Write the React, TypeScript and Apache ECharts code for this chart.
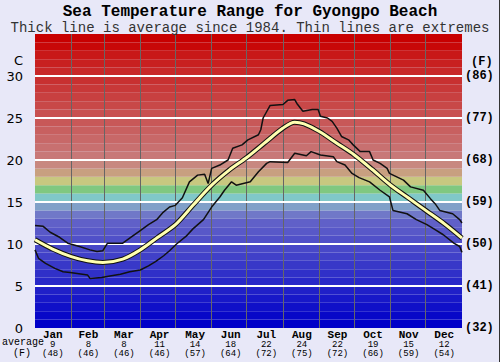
import React, { useEffect, useRef } from "react";
import * as echarts from "echarts";

const MONTHS = ["Jan", "Feb", "Mar", "Apr", "May", "Jun", "Jul", "Aug", "Sep", "Oct", "Nov", "Dec"];
const AVG_C = [9, 8, 8, 11, 14, 18, 22, 24, 22, 19, 15, 12];
const AVG_F = [48, 46, 46, 46, 57, 64, 72, 75, 72, 66, 59, 54];
const MONTH_STARTS = [31, 59, 90, 120, 151, 181, 212, 243, 273, 304, 334];
const C_TICKS = [5, 10, 15, 20, 25, 30];
const F_LABELS = ["(32)", "(41)", "(50)", "(59)", "(68)", "(77)", "(86)"];

// [day of year, °C]
const AVG_LINE = [
  [0, 10.5], [15, 9.4], [31, 8.5], [45, 8.0], [58, 7.8], [75, 8.2], [90, 9.3],
  [105, 10.8], [120, 12.3], [135, 14.6], [151, 17.0], [166, 18.8], [181, 20.3],
  [196, 22.0], [212, 23.8], [222, 24.5], [230, 24.3], [243, 23.4], [258, 22.0],
  [273, 20.6], [288, 18.9], [304, 17.0], [319, 15.5], [334, 14.0], [350, 12.4], [365, 10.7],
];

const MAX_LINE = [
  [0, 12.2], [7, 12.1], [13, 11.4], [21, 10.8], [28, 10.1], [38, 9.7], [47, 9.3],
  [53, 9.1], [58, 9.2], [62, 10.1], [75, 10.1], [83, 10.9], [90, 11.6], [97, 12.3],
  [104, 12.9], [109, 13.7], [115, 14.4], [120, 14.6], [126, 15.5], [132, 17.4],
  [139, 18.2], [145, 18.3], [148, 17.2], [151, 19.0], [158, 19.4], [165, 20.0],
  [169, 21.4], [177, 21.8], [182, 22.4], [191, 23.0], [193, 23.6], [195, 25.0],
  [201, 26.5], [212, 26.6], [216, 27.1], [222, 27.2], [224, 26.7], [229, 25.8],
  [237, 26.0], [242, 26.0], [244, 25.2], [250, 25.0], [254, 24.6], [258, 23.8],
  [262, 22.8], [268, 22.4], [272, 21.8], [278, 21.0], [286, 21.0], [289, 20.0],
  [295, 19.6], [301, 19.0], [303, 18.4], [315, 17.6], [321, 16.8], [332, 16.4],
  [338, 15.4], [342, 14.8], [346, 14.0], [357, 13.6], [363, 12.9], [365, 12.5],
];

const MIN_LINE = [
  [0, 9.3], [3, 8.3], [9, 7.7], [17, 7.1], [24, 6.7], [30, 6.6], [45, 6.3],
  [47, 5.9], [57, 6.0], [64, 6.2], [73, 6.4], [81, 6.7], [90, 6.9], [97, 7.4],
  [103, 7.9], [110, 8.6], [115, 9.2], [121, 10.0], [129, 10.9], [135, 11.8],
  [144, 12.9], [151, 14.4], [155, 15.1], [158, 15.6], [162, 16.4], [168, 17.4],
  [172, 17.0], [178, 17.2], [184, 17.4], [191, 18.6], [198, 19.6], [201, 19.8],
  [216, 19.7], [222, 20.8], [232, 20.5], [236, 21.0], [244, 20.6], [255, 20.4],
  [258, 19.8], [265, 19.4], [271, 18.4], [277, 17.9], [286, 17.4], [295, 16.4],
  [303, 15.6], [306, 14.0], [318, 13.6], [326, 12.9], [335, 12.3], [342, 11.7],
  [349, 11.1], [358, 10.1], [363, 9.7], [365, 9.0],
];

const BAND_COLORS = [
  "#0000c8", "#0808c8", "#1010c8", "#1818c8", "#2020c8", "#2828c8", "#3030c8",
  "#3838c8", "#4040c8", "#4848c8", "#5050c8", "#5858c8", "#6060c8", "#7078c8",
  "#80a0c8", "#80c8c8", "#80c880", "#c8c880", "#c8a080", "#c88880", "#c87878",
  "#c87070", "#c86868", "#c86060", "#c85858", "#c85050", "#c84848", "#c84040",
  "#c83838", "#c83030", "#c82828", "#c82020", "#c81818", "#c80808", "#c80000",
];

const MONO = "'Liberation Mono', 'DejaVu Sans Mono', monospace";

export default function App() {
  const ref = useRef<HTMLDivElement>(null);
  useEffect(() => {
    if (!ref.current) return;
    const chart = echarts.init(ref.current, null, { renderer: "svg" });
    chart.setOption({
      animation: false,
      backgroundColor: "#e8e8f8",
      title: [
        {
          text: "Sea Temperature Range for Gyongpo Beach",
          left: "center",
          top: 4,
          padding: 0,
          textStyle: { fontFamily: MONO, fontWeight: "bold", fontSize: 16, lineHeight: 16, color: "#000" },
        },
        {
          text: "Thick line is average since 1984. Thin lines are extremes",
          left: "center",
          top: 21,
          padding: 0,
          textStyle: { fontFamily: MONO, fontWeight: "normal", fontSize: 14, lineHeight: 13, color: "#333" },
        },
      ],
      grid: { left: 35, top: 34, width: 427, height: 294, containLabel: false },
      xAxis: [
        { type: "value", min: 0, max: 365, show: false },
        {
          type: "category",
          data: MONTHS,
          position: "bottom",
          boundaryGap: true,
          axisLine: { show: false },
          axisTick: { show: false },
          splitLine: { show: false },
          axisLabel: {
            interval: 0,
            margin: 1,
            formatter: (v: string, i: number) => `{m|${v}}\n{n|${AVG_C[i]}}\n{n|(${AVG_F[i]})}`,
            rich: {
              m: { fontFamily: MONO, fontWeight: "bold", fontSize: 11, lineHeight: 11, color: "#000" },
              n: { fontFamily: MONO, fontSize: 9, lineHeight: 9, color: "#000" },
            },
          },
        },
      ],
      yAxis: [
        {
          type: "value",
          min: 0,
          max: 35,
          interval: 5,
          position: "left",
          axisLine: { show: false },
          axisTick: { show: false },
          splitLine: { show: false },
          axisLabel: {
            showMaxLabel: false,
            margin: 12,
            fontFamily: "'DejaVu Sans', sans-serif",
            fontSize: 13,
            color: "#000",
          },
        },
        {
          type: "value",
          min: 0,
          max: 35,
          interval: 5,
          position: "right",
          axisLine: { show: false },
          axisTick: { show: false },
          splitLine: { show: false },
          axisLabel: {
            showMaxLabel: false,
            margin: 3,
            fontFamily: MONO,
            fontWeight: "bold",
            fontSize: 12,
            color: "#000",
            formatter: (v: number) => F_LABELS[Math.round(v / 5)] || "",
          },
        },
      ],
      graphic: [
        { type: "text", left: 14, top: 54, style: { text: "C", fontFamily: "'DejaVu Sans', sans-serif", fontSize: 13, fill: "#000" } },
        { type: "text", left: 471, top: 56, style: { text: "(F)", fontFamily: MONO, fontWeight: "bold", fontSize: 12, fill: "#000" } },
        { type: "text", left: 2, top: 337, style: { text: "average", fontFamily: MONO, fontSize: 10, fill: "#000" } },
        { type: "text", left: 13, top: 348, style: { text: "(F)", fontFamily: MONO, fontSize: 10, fill: "#000" } },
        { type: "line", shape: { x1: 499.5, y1: 0, x2: 499.5, y2: 362 }, style: { stroke: "#333", lineWidth: 1 } },
      ],
      series: [
        {
          type: "line",
          xAxisIndex: 0,
          yAxisIndex: 0,
          data: [],
          silent: true,
          z: 1,
          markArea: {
            silent: true,
            data: BAND_COLORS.map((c, k) => [
              { yAxis: k, itemStyle: { color: c } },
              { yAxis: k + 1 },
            ]),
          },
          markLine: {
            silent: true,
            symbol: "none",
            label: { show: false },
            data: [
              ...MONTH_STARTS.map((d) => ({ xAxis: d, lineStyle: { color: "#666", width: 1, type: "solid" } })),
              ...C_TICKS.map((t) => ({ yAxis: t, lineStyle: { color: "#ffffff", width: 2, type: "solid" } })),
            ],
          },
        },
        {
          type: "line",
          xAxisIndex: 0,
          yAxisIndex: 0,
          data: MAX_LINE,
          showSymbol: false,
          silent: true,
          z: 10,
          lineStyle: { color: "#111", width: 1.5 },
        },
        {
          type: "line",
          xAxisIndex: 0,
          yAxisIndex: 0,
          data: MIN_LINE,
          showSymbol: false,
          silent: true,
          z: 10,
          lineStyle: { color: "#111", width: 1.5 },
        },
        {
          type: "line",
          xAxisIndex: 0,
          yAxisIndex: 0,
          data: AVG_LINE,
          smooth: 0.3,
          showSymbol: false,
          silent: true,
          z: 11,
          lineStyle: { color: "#111", width: 5 },
        },
        {
          type: "line",
          xAxisIndex: 0,
          yAxisIndex: 0,
          data: AVG_LINE,
          smooth: 0.3,
          showSymbol: false,
          silent: true,
          z: 12,
          lineStyle: { color: "#ffffb0", width: 3 },
        },
      ],
    });
    return () => chart.dispose();
  }, []);
  return (
    <div
      ref={ref}
      style={{ position: "absolute", left: 0, top: 0, width: 500, height: 362 }}
    />
  );
}
